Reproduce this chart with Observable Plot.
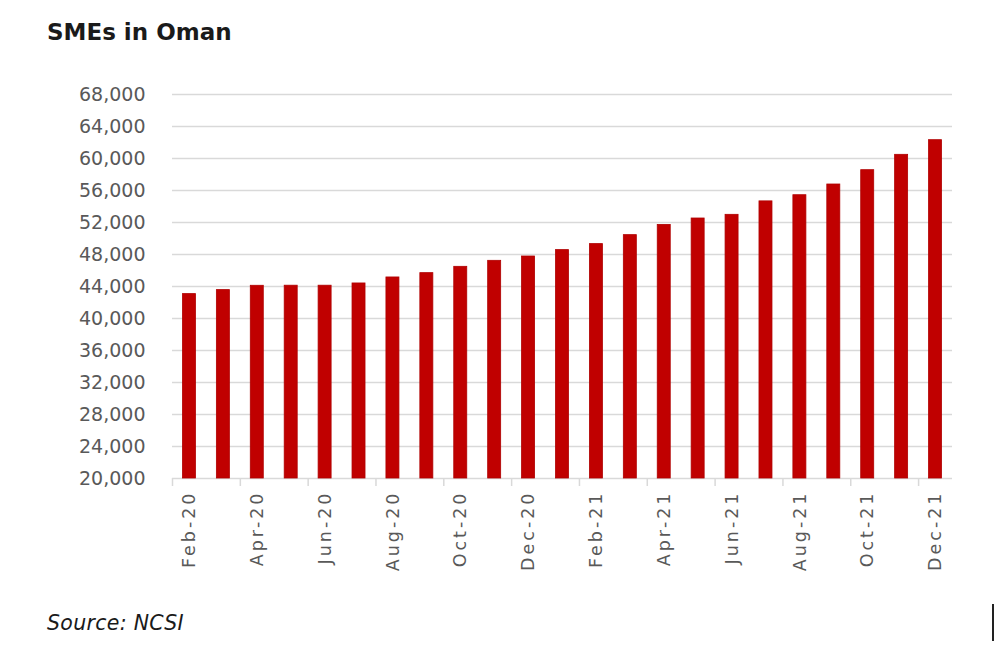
<!DOCTYPE html>
<html>
<head>
<meta charset="utf-8">
<script src="https://cdn.jsdelivr.net/npm/d3@7"></script>
<script src="https://cdn.jsdelivr.net/npm/@observablehq/plot@0.6"></script>
<style>
  html, body { margin: 0; padding: 0; background: #fff; }
  #wrap { position: relative; width: 1000px; height: 652px; overflow: hidden; background: #fff; }
  #title { position: absolute; left: 47px; top: 19px; font: bold 23px "DejaVu Sans", sans-serif; color: #1a1a1a; line-height: 1.2; }
  #chart { position: absolute; left: 0; top: 60px; }
  #caption { position: absolute; left: 47px; top: 611px; font: italic 20.5px "DejaVu Sans", sans-serif; color: #1a1a1a; line-height: 1.2; letter-spacing: 0.3px; }
  #mark { position: absolute; left: 992px; top: 604px; width: 1.5px; height: 37px; background: #222; }
</style>
</head>
<body>
<div id="wrap">
  <div id="title">SMEs in Oman</div>
  <div id="chart"></div>
  <div id="caption">Source: NCSI</div>
  <div id="mark"></div>
</div>
<script>
// Categories (months)
const months = [
  "Feb-20","Mar-20","Apr-20","May-20","Jun-20","Jul-20","Aug-20","Sep-20","Oct-20","Nov-20","Dec-20",
  "Jan-21","Feb-21","Mar-21","Apr-21","May-21","Jun-21","Jul-21","Aug-21","Sep-21","Oct-21","Nov-21","Dec-21"
];
// Number of SMEs
const smes = [
  43050, 43550, 44090, 44100, 44100, 44380, 45130, 45670, 46460, 47210, 47750,
  48550, 49300, 50420, 51700, 52500, 52960, 54640, 55410, 56750, 58540, 60460, 62290
];
// Tick labels
const yTicks = [20000, 24000, 28000, 32000, 36000, 40000, 44000, 48000, 52000, 56000, 60000, 64000, 68000];
const xLabels = ["Feb-20","Apr-20","Jun-20","Aug-20","Oct-20","Dec-20","Feb-21","Apr-21","Jun-21","Aug-21","Oct-21","Dec-21"];

const data = months.map((m, i) => ({month: m, value: smes[i]}));

const W = 1000, H = 540, ML = 172, MR = 48, MT = 34, MB = 122;
const step = (W - ML - MR) / months.length;
const barW = 13;

const chart = Plot.plot({
  width: W,
  height: H,
  marginLeft: ML,
  marginRight: MR,
  marginTop: MT,
  marginBottom: MB,
  style: {fontFamily: "'DejaVu Sans', sans-serif", background: "#fff", overflow: "visible"},
  x: {type: "band", domain: months, padding: 0, round: false},
  y: {domain: [yTicks[0], yTicks[yTicks.length - 1]]},
  marks: [
    Plot.ruleY(yTicks, {stroke: "#d9d9d9", strokeWidth: 1.5}),
    Plot.barY(data, {
      x: "month", y1: yTicks[0], y2: "value",
      fill: "#c00000", stroke: "#b00000", strokeWidth: 0.8,
      insetLeft: (step - barW) / 2, insetRight: (step - barW) / 2
    }),
    Plot.axisY({
      ticks: yTicks, tickSize: 0, tickPadding: 27, tickFormat: d3.format(","),
      fontSize: 19, fill: "#595959", label: null
    }),
    Plot.axisX({
      ticks: xLabels, tickSize: 0, tickRotate: -90, tickPadding: 12,
      fontSize: 17.5, fill: "#595959", label: null
    }),
    Plot.axisX({
      ticks: months.filter((d, i) => i % 2 === 0), tickFormat: () => "",
      tickSize: 8, stroke: "#d9d9d9", strokeWidth: 1.5, dx: -step / 2, label: null
    })
  ]
});
document.getElementById("chart").appendChild(chart);
d3.select(chart).selectAll('g[aria-label="x-axis tick label"] text').style("letter-spacing", "3px");
</script>
</body>
</html>
